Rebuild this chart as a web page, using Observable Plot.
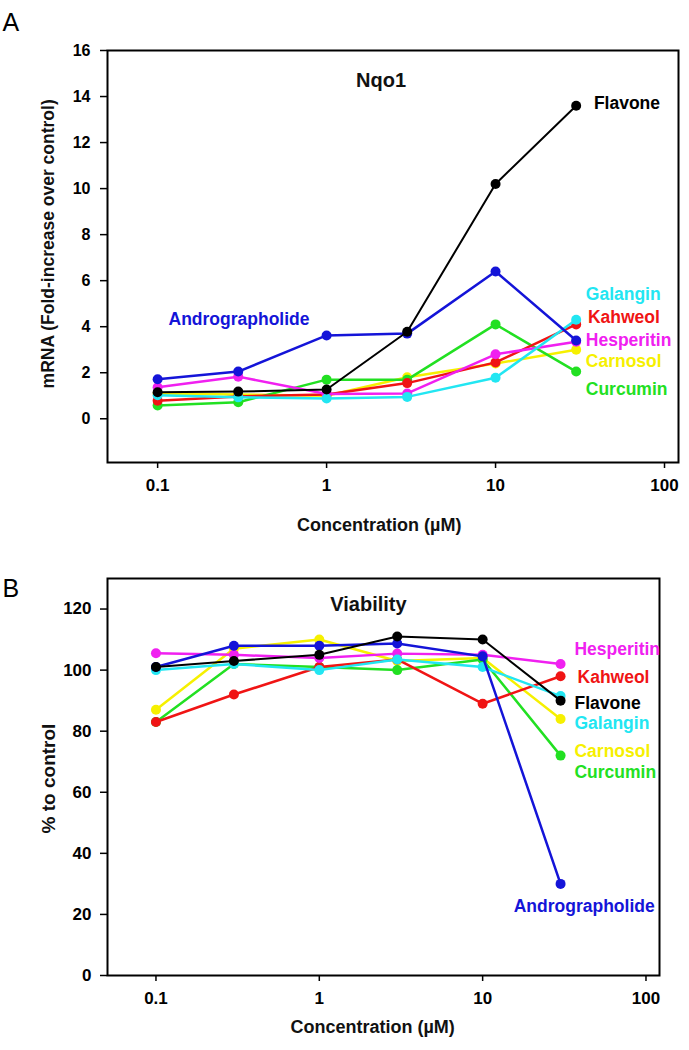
<!DOCTYPE html>
<html><head><meta charset="utf-8">
<script src="https://cdn.jsdelivr.net/npm/d3@7"></script>
<script src="https://cdn.jsdelivr.net/npm/@observablehq/plot@0.6"></script>
<style>
body{margin:0;background:#fff;}
#chart svg{display:block;max-width:none;}
</style></head><body><div id="chart"></div>
<script>
// ---- data ----
const concentrations = [0.1, 0.3, 1, 3, 10, 30];
const compounds = ["Carnosol", "Curcumin", "Kahweol", "Hesperitin", "Galangin", "Andrographolide", "Flavone"];
const seriesColors = ["#f6f000", "#22e022", "#f01414", "#f020f0", "#22e6f2", "#1414d8", "#000000"];

// Panel A: Nqo1 mRNA fold-increase
const nqo1Carnosol = [1.1, 1.05, 1.0, 1.8, 2.4, 3.0];
const nqo1Curcumin = [0.58, 0.72, 1.7, 1.7, 4.1, 2.05];
const nqo1Kahweol = [0.78, 0.97, 1.05, 1.55, 2.45, 4.1];
const nqo1Hesperitin = [1.37, 1.83, 1.08, 1.1, 2.8, 3.35];
const nqo1Galangin = [1.02, 0.93, 0.88, 0.95, 1.78, 4.3];
const nqo1Andrographolide = [1.72, 2.05, 3.62, 3.7, 6.4, 3.4];
const nqo1Flavone = [1.15, 1.18, 1.27, 3.78, 10.2, 13.6];

// Panel B: viability (% to control)
const viaCarnosol = [87, 107, 110, 103, 104, 84];
const viaCurcumin = [83, 102, 101, 100, 103.5, 72];
const viaKahweol = [83, 92, 101, 103.5, 89, 98];
const viaHesperitin = [105.5, 105, 104, 105.4, 105, 102];
const viaGalangin = [100, 102, 100, 103.5, 101, 91.5];
const viaAndrographolide = [101, 108, 108, 108.7, 104.5, 30];
const viaFlavone = [101, 103, 105, 111, 110, 90];

const xTicks = [0.1, 1, 10, 100];
const yTicksA = [0, 2, 4, 6, 8, 10, 12, 14, 16];
const yTicksB = [0, 20, 40, 60, 80, 100, 120];

// series label anchors (annotation placement, data units)
const labelNamesA = ["Flavone", "Andrographolide", "Galangin", "Kahweol", "Hesperitin", "Carnosol", "Curcumin"];
const labelXA = [38.2, 0.116, 34.2, 35.2, 34.2, 34.2, 34.2];
const labelYA = [13.7, 4.3, 5.39, 4.39, 3.39, 2.48, 1.26];
const labelNamesB = ["Hesperitin", "Kahweol", "Flavone", "Galangin", "Carnosol", "Curcumin", "Andrographolide"];
const labelXB = [36.5, 38.1, 36.5, 36.5, 36.5, 36.5, 15.5];
const labelYB = [106.7, 97.6, 89.1, 82.5, 73.3, 66.5, 22.6];

// ---- build tables ----
const valuesA = [nqo1Carnosol, nqo1Curcumin, nqo1Kahweol, nqo1Hesperitin, nqo1Galangin, nqo1Andrographolide, nqo1Flavone];
const valuesB = [viaCarnosol, viaCurcumin, viaKahweol, viaHesperitin, viaGalangin, viaAndrographolide, viaFlavone];
const toRows = vals => compounds.flatMap((c, i) => vals[i].map((v, j) => ({compound: c, conc: concentrations[j], value: v})));
const rowsA = toRows(valuesA);
const rowsB = toRows(valuesB);
const labelsA = labelNamesA.map((n, i) => ({name: n, x: labelXA[i], y: labelYA[i]}));
const labelsB = labelNamesB.map((n, i) => ({name: n, x: labelXB[i], y: labelYB[i]}));

const SANS = "'Liberation Sans', Arial, Helvetica, sans-serif";
const NARROW = "'Liberation Sans Narrow', 'Arial Narrow', 'Liberation Sans', Arial, sans-serif";

function seriesMarks(rows) {
  const marks = [];
  for (const c of compounds) {
    const r = rows.filter(d => d.compound === c);
    marks.push(Plot.line(r, {x: "conc", y: "value", stroke: "compound", strokeWidth: c === "Flavone" ? 2 : 2.5}));
    marks.push(Plot.dot(r, {x: "conc", y: "value", fill: "compound", r: 5}));
  }
  return marks;
}

function panel(opts) {
  return Plot.plot({
    width: 689,
    height: opts.height,
    marginTop: opts.marginTop,
    marginLeft: 107,
    marginRight: opts.marginRight,
    marginBottom: opts.marginBottom,
    style: {fontFamily: SANS, background: "white", overflow: "visible"},
    x: {type: "log", domain: [0.0505, 121]},
    y: {domain: opts.yDomain},
    color: {domain: compounds, range: seriesColors},
    marks: [
      Plot.axisX({ticks: xTicks, tickFormat: d => String(d), tickSize: 6, tickPadding: 10, strokeWidth: 1.5,
        fontSize: opts.xFont, fontWeight: "bold", fontFamily: NARROW, label: null}),
      Plot.axisY({ticks: opts.yTicks, tickSize: 7, tickPadding: opts.yTickPad, strokeWidth: 1.5,
        fontSize: opts.yFont, fontWeight: "bold", fontFamily: NARROW, label: null}),
      ...seriesMarks(opts.rows),
      Plot.frame({stroke: "black", strokeWidth: 2}),
      Plot.text(opts.labels, {x: "x", y: "y", text: "name", fill: "name", textAnchor: "start",
        fontSize: 17.5, fontWeight: "bold", fontFamily: SANS}),
      Plot.text([opts.title], {x: opts.titleX, y: opts.titleY, fontSize: 20, fontWeight: "bold", fontFamily: SANS, fill: "#111"}),
      Plot.text(["Concentration (\u00b5M)"], {x: opts.xLabelX, frameAnchor: "bottom", dy: opts.xLabelDy,
        fontSize: 18, fontWeight: "bold", fontFamily: NARROW, fill: "#111"}),
      Plot.text([opts.yLabel], {y: opts.yLabelY, frameAnchor: "left", dx: -59, rotate: -90, textAnchor: "middle",
        lineAnchor: "middle", fontSize: opts.yLabelFont, fontWeight: "bold", fontFamily: SANS, fill: "#111"}),
      Plot.text([opts.letter], {frameAnchor: "top-left", dx: -105, dy: opts.letterDy, textAnchor: "start",
        lineAnchor: "top", fontSize: 25, fontWeight: "normal", fontFamily: SANS, fill: "#000"})
    ]
  });
}

const chart = document.getElementById("chart");
chart.append(panel({
  height: 540, marginTop: 50, marginRight: 11, marginBottom: 78,
  yDomain: [-1.9, 16], yTicks: yTicksA, yTickPad: 10, yFont: 16, xFont: 17,
  rows: rowsA, labels: labelsA, title: "Nqo1", titleX: 2.1, titleY: 14.7,
  xLabelX: 2.05, xLabelDy: 68, yLabel: "mRNA (Fold-increase over control)", yLabelY: 7.6, yLabelFont: 17.5,
  letter: "A", letterDy: -37
}));
chart.append(panel({
  height: 510, marginTop: 38, marginRight: 30, marginBottom: 75,
  yDomain: [0, 130], yTicks: yTicksB, yTickPad: 9, yFont: 17, xFont: 17,
  rows: rowsB, labels: labelsB, title: "Viability", titleX: 2.0, titleY: 121.5,
  xLabelX: 2.12, xLabelDy: 57, yLabel: "% to control", yLabelY: 64.5, yLabelFont: 19,
  letter: "B", letterDy: 1
}));
</script></body></html>
